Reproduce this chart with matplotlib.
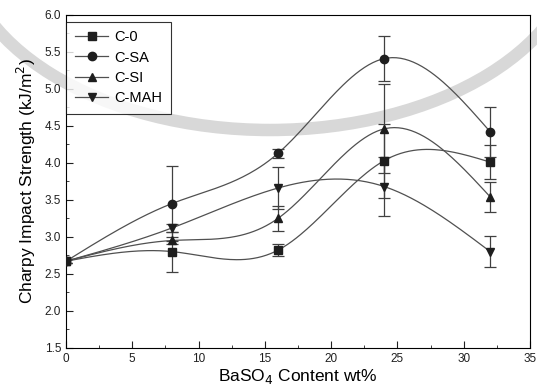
import numpy as np
import matplotlib.pyplot as plt
from matplotlib.patches import Arc
from matplotlib.ticker import MultipleLocator

plt.rcParams['font.family'] = ['Liberation Sans', 'DejaVu Sans']

# BaSO4 loading (wt%)
content = [0, 8, 16, 24, 32]

# impact strength (kJ/m^2) and error bars
c0 = [2.67, 2.80, 2.82, 4.03, 4.01]
c0_err = [0.03, 0.27, 0.08, 0.50, 0.23]
csa = [2.67, 3.45, 4.13, 5.41, 4.42]
csa_err = [0.03, 0.51, 0.06, 0.30, 0.34]
csi = [2.67, 2.95, 3.25, 4.46, 3.54]
csi_err = [0.03, 0.05, 0.17, 0.60, 0.20]
cmah = [2.67, 3.12, 3.66, 3.68, 2.80]
cmah_err = [0.03, 0.05, 0.28, 0.40, 0.21]

labels = ['C-0', 'C-SA', 'C-SI', 'C-MAH']
markers = ['s', 'o', '^', 'v']


def natural_spline(x, y, n=200):
    # natural cubic spline through the points
    x = np.asarray(x, float)
    y = np.asarray(y, float)
    k = len(x)
    h = np.diff(x)
    A = np.zeros((k, k))
    b = np.zeros(k)
    A[0, 0] = A[-1, -1] = 1
    for i in range(1, k - 1):
        A[i, i - 1] = h[i - 1]
        A[i, i] = 2 * (h[i - 1] + h[i])
        A[i, i + 1] = h[i]
        b[i] = 3 * ((y[i + 1] - y[i]) / h[i] - (y[i] - y[i - 1]) / h[i - 1])
    c = np.linalg.solve(A, b)
    xs = np.linspace(x[0], x[-1], n)
    ys = np.empty_like(xs)
    for j, xv in enumerate(xs):
        i = min(np.searchsorted(x, xv, side='right') - 1, k - 2)
        d = xv - x[i]
        bi = (y[i + 1] - y[i]) / h[i] - h[i] * (c[i + 1] + 2 * c[i]) / 3
        di = (c[i + 1] - c[i]) / (3 * h[i])
        ys[j] = y[i] + bi * d + c[i] * d ** 2 + di * d ** 3
    return xs, ys


fig = plt.figure(figsize=(5.37, 3.91), dpi=100)

# faint stamp ring behind the plot
fig.patches.append(Arc((270 / 537, 1 + 60 / 391), 2 * 309 / 537, 2 * 190 / 391,
                       theta1=180, theta2=360, lw=9, color='#d8d8d8',
                       transform=fig.transFigure, zorder=-1))

ax = fig.add_axes([0.1229, 0.1107, 0.864, 0.851])
ax.patch.set_alpha(0)

series = [(c0, c0_err), (csa, csa_err), (csi, csi_err), (cmah, cmah_err)]
for (vals, errs), lab, m in zip(series, labels, markers):
    xs, ys = natural_spline(content, vals)
    ax.plot(xs, ys, color='#505050', lw=0.9, zorder=2)
    ax.errorbar(content, vals, yerr=errs, fmt='none', ecolor='#404040',
                elinewidth=0.9, capsize=4, capthick=0.9, zorder=3)
    ax.plot(content, vals, ls='none', marker=m, ms=6, color='#1e1e1e', zorder=4)
    ax.plot([], [], color='#505050', lw=0.9, marker=m, ms=6,
            mfc='#1e1e1e', mec='#1e1e1e', label=lab)

ax.set_xlim(0, 35)
ax.set_ylim(1.5, 6.0)
ax.xaxis.set_major_locator(MultipleLocator(5))
ax.xaxis.set_minor_locator(MultipleLocator(2.5))
ax.yaxis.set_major_locator(MultipleLocator(0.5))
ax.yaxis.set_minor_locator(MultipleLocator(0.25))
ax.tick_params(which='both', direction='in', labelsize=8.5, colors='#202020')
ax.tick_params(which='major', length=5)
ax.tick_params(which='minor', length=2.5)
ax.yaxis.set_major_formatter(plt.FormatStrFormatter('%.1f'))

ax.set_xlabel('BaSO$_4$ Content wt%', fontsize=12.5, labelpad=2)
ax.set_ylabel('Charpy Impact Strength (kJ/m$^2$)', fontsize=12.5, labelpad=5)

leg = ax.legend(loc='upper left', bbox_to_anchor=(0.0, 0.98), borderaxespad=0,
                fontsize=10.5, frameon=True, fancybox=False, edgecolor='black',
                handlelength=2.3, handletextpad=0.4, labelspacing=0.42,
                borderpad=0.6)
leg.get_frame().set_linewidth(0.8)

fig.savefig('out.png', dpi=100)
